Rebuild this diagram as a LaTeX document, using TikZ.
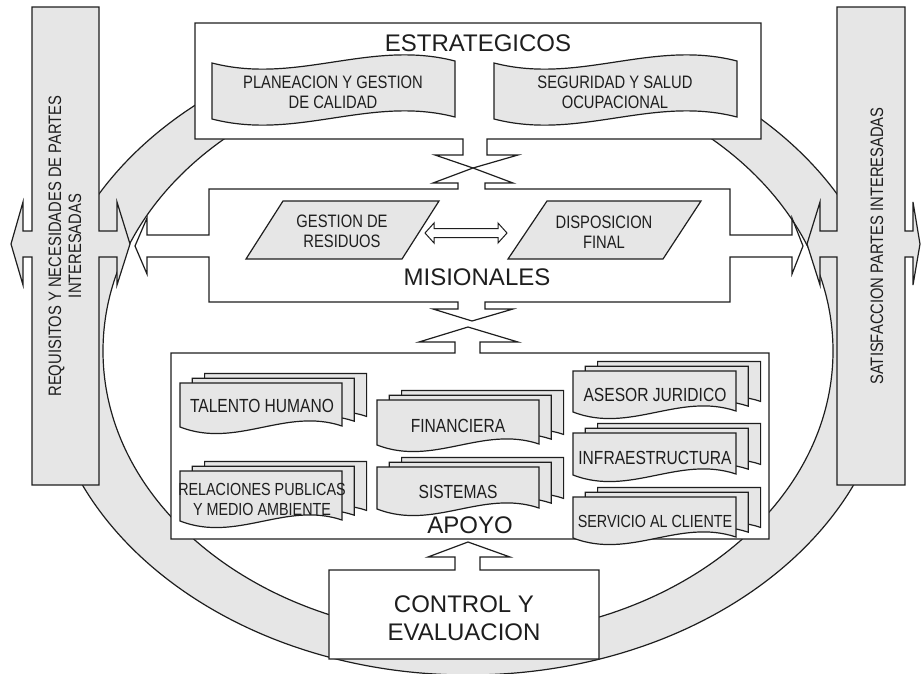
\documentclass[tikz,border=0pt]{standalone}
\usepackage{fontspec}
\setmainfont{Liberation Sans}
\newfontfamily\narrowfont[FakeStretch=0.82]{Liberation Sans}
\definecolor{lightfill}{HTML}{E6E6E6}
\definecolor{ink}{HTML}{1E1E1E}
\newcommand{\docshape}[4]{%
  \draw[graybox] (#1,#2) -- (#1+#3,#2) -- (#1+#3,#2+#4-1)
    .. controls (#1+0.65*#3,#2+#4-20) and (#1+0.35*#3,#2+#4+22) .. (#1,#2+#4) -- cycle;}
\newcommand{\docstack}[4]{%
  \docshape{#1+24.6}{#2-9.6}{#3}{#4}
  \docshape{#1+12.3}{#2-4.8}{#3}{#4}
  \docshape{#1}{#2}{#3}{#4}}
\newcommand{\tapeshape}[4]{%
  \draw[graybox] (#1,#2) .. controls (#1+0.35*#3,#2+22) and (#1+0.65*#3,#2-24) .. (#1+#3,#2-2)
   -- (#1+#3,#2+#4-2) .. controls (#1+0.65*#3,#2+#4-24) and (#1+0.35*#3,#2+#4+22) .. (#1,#2+#4) -- cycle;}
\begin{document}
\begin{tikzpicture}[x=1pt,y=-1pt,line join=miter,
  ln/.style={draw=ink,line width=1.2pt},
  graybox/.style={ln,fill=lightfill},
  whitebox/.style={ln,fill=white},
  biglbl/.style={font=\fontsize{24}{28}\selectfont,text=ink,align=center,inner sep=0pt},
  lbl/.style={font=\narrowfont\fontsize{18}{20}\selectfont,text=ink,align=center,inner sep=0pt},
  docl/.style={font=\narrowfont\fontsize{19}{20}\selectfont,text=ink,align=center,inner sep=0pt},
  sublbl/.style={font=\narrowfont\fontsize{17.5}{20}\selectfont,text=ink,align=center,inner sep=0pt}]
\useasboundingbox (0,0) rectangle (922,673);
% ring
\fill[lightfill,even odd rule] (468,352) ellipse [x radius=423pt,y radius=323pt]
  (468,351) ellipse [x radius=365pt,y radius=285pt];
\draw[ln] (468,352) ellipse [x radius=423pt,y radius=323pt];
\draw[ln] (468,351) ellipse [x radius=365pt,y radius=285pt];
% side bars
\draw[graybox] (32,7) -- (99,7) -- (99,231) -- (117,231) -- (117,202) -- (130,244) -- (117,285) -- (117,257) -- (99,257) -- (99,485) -- (32,485) -- (32,257) -- (23,257) -- (23,285) -- (11,244) -- (23,202) -- (23,231) -- (32,231) -- cycle;
\node[lbl,rotate=90] (req) at (65,246) {REQUISITOS Y NECESIDADES DE PARTES\\INTERESADAS};
\draw[graybox] (837,7) -- (905,7) -- (905,231) -- (913,231) -- (913,202) -- (920,244) -- (913,285) -- (913,257) -- (905,257) -- (905,485) -- (837,485) -- (837,257) -- (820,257) -- (820,285) -- (807,244) -- (820,202) -- (820,231) -- (837,231) -- cycle;
\node[lbl,rotate=90] (sat) at (877,246) {SATISFACCION PARTES INTERESADAS};
% estrategicos
\draw[whitebox] (195,23) -- (761,23) -- (761,139) -- (487,139) -- (487,155) -- (518,155) -- (473,168) -- (435,155) -- (463,155) -- (463,139) -- (195,139) -- cycle;
\node[biglbl] (estr) at (478,43) {ESTRATEGICOS};
\tapeshape{212}{63}{243}{56}
\node[lbl] (plan) at (333,92) {PLANEACION Y GESTION\\DE CALIDAD};
\tapeshape{494}{63}{243}{56}
\node[lbl] (seg) at (615,92) {SEGURIDAD Y SALUD\\OCUPACIONAL};
% misionales
\draw[whitebox] (209,189) -- (458,189) -- (458,183) -- (433,183) -- (473,168) -- (513,183) -- (485,183) -- (485,189) -- (730,189) -- (730,235) -- (792,235) -- (792,218) -- (803,246) -- (792,274) -- (792,257) -- (730,257) -- (730,302) -- (485,302) -- (485,309) -- (513,309) -- (472,321) -- (433,309) -- (458,309) -- (458,302) -- (209,302) -- (209,257) -- (147,257) -- (147,274) -- (135,246) -- (147,218) -- (147,235) -- (209,235) -- cycle;
\draw[graybox] (283,201) -- (439,201) -- (402,259) -- (246,259) -- cycle;
\node[lbl] (gest) at (342,231) {GESTION DE\\RESIDUOS};
\draw[graybox] (547,201) -- (701,201) -- (663,259) -- (508,259) -- cycle;
\node[lbl] (disp) at (604,232) {DISPOSICION\\FINAL};
\draw[whitebox,line width=1pt] (425,233) -- (434,223) -- (434,228.5) -- (498,228.5) -- (498,223) -- (507,233) -- (498,243) -- (498,237.5) -- (434,237.5) -- (434,243) -- cycle;
\node[biglbl] (mis) at (477,277) {MISIONALES};
% apoyo
\draw[whitebox] (171,353) -- (455,353) -- (455,342) -- (419,342) -- (468,327) -- (518,342) -- (480,342) -- (480,353) -- (769,353) -- (769,539) -- (171,539) -- cycle;
\docstack{180}{383}{162}{44}
\node[docl] (tal) at (262,406) {TALENTO HUMANO};
\docstack{180}{471}{162}{50}
\node[sublbl] (rel) at (262,499) {RELACIONES PUBLICAS\\Y MEDIO AMBIENTE};
\docstack{377}{400}{162}{45}
\node[docl] (fin) at (458,426) {FINANCIERA};
\docstack{377}{467}{162}{42}
\node[docl] (sis) at (458,492) {SISTEMAS};
\docstack{573}{371}{163}{41}
\node[docl] (ase) at (655,395) {ASESOR JURIDICO};
\docstack{573}{433}{163}{42}
\node[docl] (inf) at (655,458) {INFRAESTRUCTURA};
\docstack{573}{497}{163}{41}
\node[sublbl] (ser) at (655,521) {SERVICIO AL CLIENTE};
\node[biglbl] (apo) at (470,525) {APOYO};
% control
\draw[whitebox] (329,570) -- (455,570) -- (455,557) -- (428,557) -- (468,542) -- (510,557) -- (480,557) -- (480,570) -- (599,570) -- (599,659) -- (329,659) -- cycle;
\node[biglbl] (ctrl) at (464,618) {CONTROL Y\\EVALUACION};
\end{tikzpicture}
\end{document}
